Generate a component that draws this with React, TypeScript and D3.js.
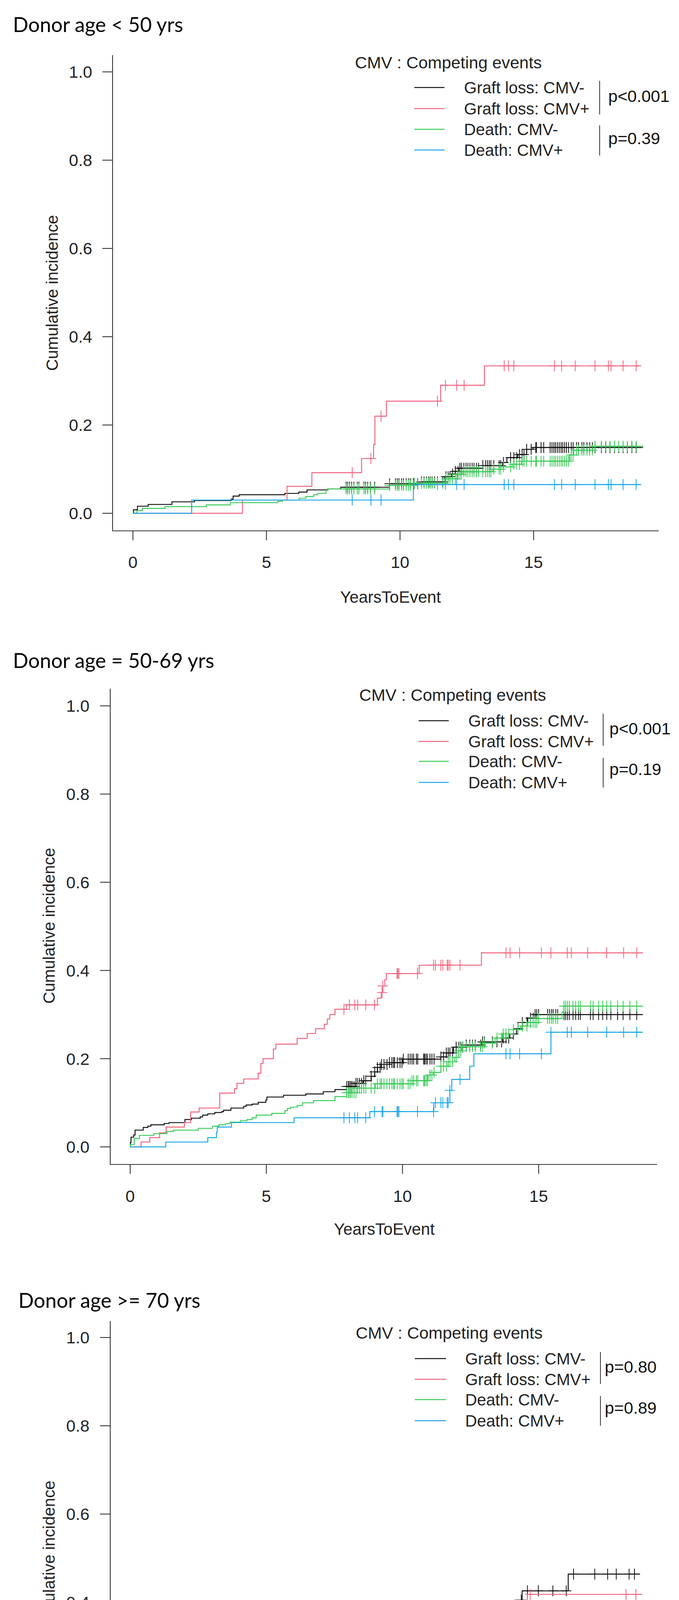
import React, { useEffect, useRef } from "react";
import * as d3 from "d3";

type Step = [number, number];

// text shared by the three panels
const panelTitles = ["Donor age < 50 yrs", "Donor age = 50-69 yrs", "Donor age >= 70 yrs"];
const legendTitle = "CMV : Competing events";
const seriesNames = ["Graft loss: CMV-", "Graft loss: CMV+", "Death: CMV-", "Death: CMV+"];
const seriesColors = ["#111111", "#F2627C", "#36CB55", "#17A5E8"];
const pGraftLoss = ["p<0.001", "p<0.001", "p=0.80"];
const pDeath = ["p=0.39", "p=0.19", "p=0.89"];
const xTicks = [0, 5, 10, 15];
const yTicks = [0, 0.2, 0.4, 0.6, 0.8, 1.0];

// ---- panel 1: donor age < 50 ----
const p1GraftNeg: Step[] = [[0.02, 0.008], [0.17, 0.016], [0.57, 0.02], [1.46, 0.026], [2.3, 0.029], [3.68, 0.032], [3.75, 0.039], [3.98, 0.042], [5.69, 0.045], [6.21, 0.048], [6.52, 0.053], [7.3, 0.055], [7.78, 0.059], [9.6, 0.067], [10.8, 0.071], [11.67, 0.083], [11.93, 0.089], [12.07, 0.095], [12.2, 0.102], [13.1, 0.108], [13.84, 0.115], [14.0, 0.126], [14.41, 0.133], [14.74, 0.145], [14.98, 0.149]];
const p1GraftPos: Step[] = [[4.1, 0.03], [5.77, 0.061], [6.7, 0.092], [8.56, 0.124], [9.01, 0.156], [9.06, 0.22], [9.49, 0.254], [11.52, 0.29], [13.16, 0.334]];
const p1DeathNeg: Step[] = [[0.15, 0.006], [0.35, 0.011], [1.2, 0.015], [2.75, 0.019], [3.65, 0.024], [5.42, 0.027], [5.6, 0.03], [6.22, 0.034], [6.48, 0.038], [6.77, 0.042], [6.91, 0.045], [7.23, 0.052], [7.28, 0.055], [9.6, 0.063], [10.53, 0.068], [11.67, 0.078], [12.13, 0.088], [12.33, 0.094], [13.47, 0.1], [13.87, 0.105], [14.2, 0.111], [14.55, 0.118], [16.35, 0.132], [16.5, 0.143], [17.3, 0.152]];
const p1DeathPos: Step[] = [[2.2, 0.03], [10.5, 0.065]];
const p1CensorNeg = [7.98, 8.04, 8.11, 8.19, 8.27, 8.4, 8.46, 8.65, 8.71, 8.79, 8.89, 9.05, 9.61, 9.83, 9.9, 9.96, 10.06, 10.13, 10.23, 10.33, 10.4, 10.5, 10.53, 10.66, 10.8, 10.9, 10.99, 11.07, 11.13, 11.2, 11.3, 11.4, 11.6, 11.72, 11.8, 11.87, 11.97, 12.07, 12.17, 12.24, 12.3, 12.39, 12.47, 12.54, 12.62, 12.7, 12.77, 12.86, 12.94, 13.1, 13.2, 13.27, 13.34, 13.4, 13.51, 13.71, 13.77, 13.87, 14.14, 14.26, 14.37, 14.47, 14.57, 14.64, 14.74, 14.91, 15.08, 15.11, 15.28, 15.38, 15.62, 15.69, 15.76, 15.82, 15.89, 15.96, 16.03, 16.09, 16.16, 16.23, 16.31, 16.41, 16.48, 16.61, 16.68, 16.81, 16.88, 17.0, 17.1, 17.2, 17.3, 17.54, 17.7, 17.86, 18.03, 18.19, 18.35, 18.51, 18.68, 18.84];
const p1CensorPos = [8.21, 8.91, 9.29, 11.4, 11.7, 12.12, 12.4, 13.9, 14.06, 14.26, 15.78, 16.05, 16.56, 17.3, 17.8, 17.9, 18.35, 18.84];
const p1Ends = [19.1, 19.0];

// ---- panel 2: donor age 50-69 ----
const p2GraftNeg: Step[] = [[0.01, 0.01], [0.03, 0.022], [0.13, 0.027], [0.18, 0.038], [0.48, 0.044], [0.65, 0.047], [0.76, 0.05], [1.25, 0.053], [1.43, 0.055], [2.01, 0.062], [2.25, 0.065], [2.57, 0.068], [2.66, 0.072], [2.85, 0.075], [3.11, 0.078], [3.36, 0.08], [3.43, 0.083], [3.7, 0.088], [4.17, 0.092], [4.26, 0.095], [4.48, 0.097], [4.7, 0.101], [4.98, 0.106], [5.02, 0.113], [5.63, 0.117], [6.45, 0.12], [7.09, 0.125], [7.52, 0.13], [7.95, 0.137], [8.28, 0.144], [8.55, 0.15], [8.85, 0.16], [8.98, 0.17], [9.08, 0.18], [9.22, 0.187], [9.52, 0.191], [10.0, 0.199], [11.41, 0.204], [11.61, 0.213], [11.87, 0.226], [12.34, 0.231], [12.91, 0.238], [13.67, 0.247], [13.94, 0.256], [14.19, 0.268], [14.4, 0.282], [14.6, 0.292], [14.87, 0.3]];
const p2GraftPos: Step[] = [[0.4, 0.011], [0.72, 0.021], [1.08, 0.032], [1.32, 0.045], [1.99, 0.055], [2.22, 0.079], [2.53, 0.088], [3.29, 0.122], [3.83, 0.132], [3.92, 0.144], [4.17, 0.154], [4.7, 0.167], [4.8, 0.189], [4.88, 0.2], [5.26, 0.222], [5.35, 0.233], [6.13, 0.246], [6.5, 0.257], [6.81, 0.268], [7.13, 0.278], [7.24, 0.29], [7.33, 0.3], [7.52, 0.312], [7.94, 0.322], [9.08, 0.337], [9.22, 0.35], [9.27, 0.365], [9.35, 0.379], [9.41, 0.393], [10.61, 0.412], [12.9, 0.44]];
const p2DeathNeg: Step[] = [[0.01, 0.005], [0.15, 0.019], [0.34, 0.026], [0.87, 0.03], [1.35, 0.035], [1.59, 0.038], [2.5, 0.042], [3.02, 0.047], [3.26, 0.05], [3.5, 0.053], [3.67, 0.056], [4.05, 0.059], [4.29, 0.062], [4.48, 0.066], [4.63, 0.072], [5.2, 0.076], [5.68, 0.082], [5.77, 0.087], [5.89, 0.09], [6.13, 0.094], [6.33, 0.1], [6.73, 0.105], [7.52, 0.114], [7.95, 0.123], [8.35, 0.133], [9.0, 0.143], [10.35, 0.15], [10.94, 0.163], [11.14, 0.169], [11.41, 0.183], [11.67, 0.193], [11.91, 0.203], [12.07, 0.218], [12.17, 0.227], [13.0, 0.235], [13.4, 0.247], [13.67, 0.256], [14.07, 0.266], [14.34, 0.274], [14.6, 0.282], [15.0, 0.291], [15.86, 0.306], [15.93, 0.319]];
const p2DeathPos: Step[] = [[1.31, 0.011], [2.85, 0.021], [3.17, 0.033], [3.2, 0.045], [3.72, 0.055], [6.02, 0.066], [8.8, 0.08], [11.15, 0.1], [11.74, 0.128], [11.81, 0.153], [12.47, 0.183], [12.62, 0.211], [15.45, 0.26]];
const p2CensorNeg = [7.95, 8.01, 8.05, 8.1, 8.15, 8.22, 8.29, 8.35, 8.42, 8.5, 8.58, 8.65, 8.85, 8.98, 9.08, 9.18, 9.23, 9.32, 9.43, 9.52, 9.61, 9.67, 9.71, 9.81, 9.91, 9.98, 10.03, 10.21, 10.28, 10.35, 10.41, 10.51, 10.56, 10.78, 10.81, 10.86, 10.91, 11.01, 11.08, 11.16, 11.41, 11.51, 11.61, 11.68, 11.74, 11.84, 11.97, 12.07, 12.14, 12.21, 12.34, 12.47, 12.57, 12.67, 12.87, 12.94, 13.01, 13.3, 13.47, 13.64, 13.7, 13.8, 13.9, 14.07, 14.24, 14.4, 14.57, 14.7, 14.8, 14.87, 14.93, 15.0, 15.33, 15.4, 15.47, 15.53, 15.63, 15.7, 15.93, 15.99, 16.06, 16.13, 16.26, 16.36, 16.46, 16.53, 16.9, 17.0, 17.2, 17.35, 17.5, 17.65, 17.9, 18.1, 18.35, 18.6];
const p2CensorPos = [7.85, 8.05, 8.25, 8.35, 8.65, 8.97, 9.25, 9.28, 9.8, 9.83, 9.87, 10.55, 11.14, 11.21, 11.41, 11.48, 11.64, 11.68, 11.74, 12.11, 13.8, 13.95, 14.3, 15.1, 15.45, 16.05, 16.2, 16.8, 17.5, 18.12, 18.6];
const p2Ends = [18.83, 18.83];

// ---- panel 3: donor age >= 70 ----
const p3GraftNeg: Step[] = [[0.0, 0.043], [0.14, 0.049], [0.34, 0.054], [0.9, 0.059], [0.97, 0.064], [1.05, 0.07], [1.3, 0.079], [1.6, 0.087], [1.85, 0.092], [2.41, 0.099], [2.45, 0.104], [2.53, 0.109], [2.65, 0.115], [2.72, 0.124], [3.17, 0.129], [3.82, 0.136], [3.98, 0.142], [4.39, 0.147], [4.6, 0.152], [4.71, 0.158], [4.9, 0.163], [5.27, 0.169], [5.63, 0.181], [6.11, 0.186], [6.59, 0.193], [6.82, 0.198], [7.02, 0.204], [7.26, 0.214], [7.7, 0.22], [7.87, 0.226], [8.0, 0.24], [8.33, 0.245], [8.52, 0.25], [9.43, 0.259], [9.5, 0.266], [9.62, 0.274], [9.72, 0.278], [9.91, 0.283], [10.11, 0.291], [10.66, 0.299], [10.72, 0.308], [10.85, 0.314], [11.44, 0.319], [11.57, 0.33], [11.73, 0.339], [11.89, 0.343], [13.48, 0.361], [13.6, 0.38], [13.77, 0.405], [14.03, 0.426], [15.68, 0.464]];
const p3GraftPos: Step[] = [[0.2, 0.015], [0.7, 0.034], [0.87, 0.05], [1.08, 0.067], [1.27, 0.102], [2.9, 0.118], [3.16, 0.135], [3.32, 0.152], [4.16, 0.169], [4.35, 0.188], [4.82, 0.203], [5.01, 0.222], [5.56, 0.257], [6.61, 0.277], [8.42, 0.296], [9.3, 0.318], [9.53, 0.342], [14.22, 0.418]];
const p3DeathNeg: Step[] = [[0.02, 0.012], [0.17, 0.02], [0.64, 0.03], [0.72, 0.037], [0.83, 0.043], [1.19, 0.05], [1.27, 0.055], [1.38, 0.059], [1.85, 0.07], [2.67, 0.076], [3.25, 0.08], [3.47, 0.088], [3.69, 0.093], [4.27, 0.097], [5.06, 0.102], [5.14, 0.105], [5.26, 0.109], [5.37, 0.114], [5.5, 0.122], [5.59, 0.129], [5.67, 0.143], [5.72, 0.147], [5.97, 0.152], [6.14, 0.161], [6.22, 0.167], [7.18, 0.174], [7.32, 0.188], [7.78, 0.199], [8.13, 0.205], [9.04, 0.217], [9.17, 0.228], [9.43, 0.234], [9.56, 0.247], [10.08, 0.263], [10.33, 0.272], [10.66, 0.278], [11.11, 0.284], [16.8, 0.333]];
const p3DeathPos: Step[] = [[0.45, 0.032], [2.41, 0.05], [4.69, 0.068], [4.82, 0.083], [5.08, 0.102], [5.45, 0.118], [6.41, 0.137], [6.55, 0.154], [7.02, 0.171], [7.62, 0.189], [7.9, 0.205], [8.62, 0.229], [9.36, 0.25], [10.3, 0.274]];
const p3CensorNeg = [8.1, 8.18, 8.52, 8.62, 8.85, 8.91, 9.04, 9.1, 9.14, 9.33, 9.36, 9.62, 9.69, 9.72, 9.91, 9.95, 10.08, 10.11, 10.33, 10.4, 10.63, 10.67, 10.72, 10.89, 10.98, 11.27, 11.47, 11.76, 11.82, 12.05, 12.57, 12.63, 12.67, 12.8, 12.85, 12.9, 12.99, 13.12, 13.19, 13.74, 14.0, 14.22, 14.61, 15.13, 15.61, 15.87, 16.63, 17.09, 17.4, 17.86, 18.05];
const p3CensorPos = [7.93, 8.07, 8.13, 8.44, 8.67, 9.14, 9.33, 9.74, 10.66, 10.69, 11.34, 11.57, 11.91, 12.57, 13.65, 13.8, 14.32, 17.75, 18.1];
const p3Ends = [18.25, 18.33];

// pixel layout of each panel on the page
const layouts = [
  { titleX: 33, titleY: 82, axisX: 288, axisTop: 141, axisY: 1359, right: 1685, x0: 340, x15: 1365, y0: 1314, y1: 184, yTickLabelX: 236, xTickLabelY: 1454, xLabelX: 999, xLabelY: 1543, yLabelX: 133, yLabelY: 750, legTitleX: 908, legTitleY: 160, legLineX1: 1060, legLineX2: 1137, legRows: [224, 278, 331, 384], legTextX: 1187, bracketX: 1534, brackets: [[207, 293], [321, 398]], pX: 1556, pY: [246, 354] },
  { titleX: 33, titleY: 1710, axisX: 282, axisTop: 1763, axisY: 2981, right: 1681, x0: 333, x15: 1378, y0: 2936, y1: 1807, yTickLabelX: 229, xTickLabelY: 3077, xLabelX: 983, xLabelY: 3161, yLabelX: 125, yLabelY: 2370, legTitleX: 919, legTitleY: 1779, legLineX1: 1071, legLineX2: 1148, legRows: [1845, 1898, 1949, 2003], legTextX: 1198, bracketX: 1543, brackets: [[1827, 1909], [1940, 2016]], pX: 1559, pY: [1865, 1969] },
  { titleX: 47, titleY: 3348, axisX: 282, axisTop: 3382, axisY: 4599, right: 1681, x0: 333, x15: 1405, y0: 4554, y1: 3424, yTickLabelX: 229, xTickLabelY: 4694, xLabelX: 997, xLabelY: 4781, yLabelX: 125, yLabelY: 3990, legTitleX: 910, legTitleY: 3412, legLineX1: 1061, legLineX2: 1141, legRows: [3478, 3531, 3583, 3637], legTextX: 1190, bracketX: 1536, brackets: [[3461, 3543], [3574, 3650]], pX: 1547, pY: [3499, 3604] },
];

const panelCurves = [
  [p1GraftNeg, p1GraftPos, p1DeathNeg, p1DeathPos],
  [p2GraftNeg, p2GraftPos, p2DeathNeg, p2DeathPos],
  [p3GraftNeg, p3GraftPos, p3DeathNeg, p3DeathPos],
];
const panelCensor = [
  [p1CensorNeg, p1CensorPos],
  [p2CensorNeg, p2CensorPos],
  [p3CensorNeg, p3CensorPos],
];
const panelEnds = [p1Ends, p2Ends, p3Ends];

const W = 1737;
const H = 4805;
const axisFont = "'Liberation Sans', Arial, sans-serif";

const App: React.FC = () => {
  const svgRef = useRef<SVGSVGElement | null>(null);

  useEffect(() => {
    const svg = d3.select(svgRef.current);
    svg.selectAll("*").remove();
    svg.append("rect").attr("width", W).attr("height", H).attr("fill", "#fff");

    layouts.forEach((L, pi) => {
      const g = svg.append("g");
      const x = d3.scaleLinear().domain([0, 15]).range([L.x0, L.x15]);
      const y = d3.scaleLinear().domain([0, 1]).range([L.y0, L.y1]);

      // title
      g.append("text")
        .attr("x", L.titleX)
        .attr("y", L.titleY)
        .attr("font-family", "Lato, 'Open Sans', sans-serif")
        .attr("font-size", 52)
        .attr("fill", "#000")
        .text(panelTitles[pi]);

      // L-shaped box
      g.append("path")
        .attr("d", `M${L.axisX},${L.axisTop}V${L.axisY}H${L.right}`)
        .attr("fill", "none")
        .attr("stroke", "#333")
        .attr("stroke-width", 2.2);

      // y axis ticks
      yTicks.forEach((t) => {
        g.append("line")
          .attr("x1", L.axisX - 26)
          .attr("x2", L.axisX)
          .attr("y1", y(t))
          .attr("y2", y(t))
          .attr("stroke", "#333")
          .attr("stroke-width", 2.2);
        g.append("text")
          .attr("x", L.yTickLabelX)
          .attr("y", y(t))
          .attr("dy", "0.36em")
          .attr("text-anchor", "end")
          .attr("font-family", axisFont)
          .attr("font-size", 43)
          .attr("fill", "#222")
          .text(d3.format(".1f")(t));
      });

      // x axis ticks
      xTicks.forEach((t) => {
        g.append("line")
          .attr("x1", x(t))
          .attr("x2", x(t))
          .attr("y1", L.axisY)
          .attr("y2", L.axisY + 24)
          .attr("stroke", "#333")
          .attr("stroke-width", 2.2);
        g.append("text")
          .attr("x", x(t))
          .attr("y", L.xTickLabelY)
          .attr("text-anchor", "middle")
          .attr("font-family", axisFont)
          .attr("font-size", 43)
          .attr("fill", "#222")
          .text(t);
      });

      g.append("text")
        .attr("x", L.xLabelX)
        .attr("y", L.xLabelY)
        .attr("text-anchor", "middle")
        .attr("font-family", axisFont)
        .attr("font-size", 42)
        .attr("fill", "#222")
        .text("YearsToEvent");

      g.append("text")
        .attr("transform", `translate(${L.yLabelX},${L.yLabelY}) rotate(-90)`)
        .attr("dy", "0.36em")
        .attr("text-anchor", "middle")
        .attr("font-family", axisFont)
        .attr("font-size", 42)
        .attr("fill", "#222")
        .text("Cumulative incidence");

      // curves + censor marks
      const line = d3
        .line<Step>()
        .x((d) => x(d[0]))
        .y((d) => y(d[1]))
        .curve(d3.curveStepAfter);

      panelCurves[pi].forEach((steps, si) => {
        const grp = si % 2; // 0 = CMV-, 1 = CMV+
        const end = panelEnds[pi][grp];
        const last = steps[steps.length - 1][1];
        const pts: Step[] = [[0, 0], ...steps, [end, last]];
        const color = seriesColors[si];
        g.append("path")
          .attr("d", line(pts))
          .attr("fill", "none")
          .attr("stroke", color)
          .attr("stroke-width", 2.4);

        const bis = d3.bisector((d: Step) => d[0]).right;
        const valueAt = (t: number) => {
          const i = bis(pts, t) - 1;
          return i >= 0 ? pts[i][1] : 0;
        };
        const marks = g.append("g").attr("stroke", color).attr("stroke-width", 2);
        panelCensor[pi][grp].forEach((t) => {
          const cx = x(t);
          const cy = y(valueAt(t));
          marks
            .append("path")
            .attr("d", `M${cx - 13},${cy}H${cx + 13}M${cx},${cy - 14}V${cy + 14}`);
        });
      });

      // legend
      g.append("text")
        .attr("x", L.legTitleX)
        .attr("y", L.legTitleY)
        .attr("dy", "0.36em")
        .attr("font-family", axisFont)
        .attr("font-size", 43)
        .attr("fill", "#222")
        .text(legendTitle);
      seriesNames.forEach((name, si) => {
        const ry = L.legRows[si];
        g.append("line")
          .attr("x1", L.legLineX1)
          .attr("x2", L.legLineX2)
          .attr("y1", ry)
          .attr("y2", ry)
          .attr("stroke", seriesColors[si])
          .attr("stroke-width", 2.4);
        g.append("text")
          .attr("x", L.legTextX)
          .attr("y", ry)
          .attr("dy", "0.36em")
          .attr("font-family", axisFont)
          .attr("font-size", 42)
          .attr("fill", "#222")
          .text(name);
      });
      L.brackets.forEach((b, bi) => {
        g.append("line")
          .attr("x1", L.bracketX)
          .attr("x2", L.bracketX)
          .attr("y1", b[0])
          .attr("y2", b[1])
          .attr("stroke", "#333")
          .attr("stroke-width", 2);
        g.append("text")
          .attr("x", L.pX)
          .attr("y", L.pY[bi])
          .attr("dy", "0.36em")
          .attr("font-family", axisFont)
          .attr("font-size", 43)
          .attr("fill", "#111")
          .text(bi === 0 ? pGraftLoss[pi] : pDeath[pi]);
      });
    });
  }, []);

  return (
    <div style={{ position: "absolute", left: 0, top: 0 }}>
      <svg ref={svgRef} width={W} height={H} viewBox={`0 0 ${W} ${H}`}></svg>
    </div>
  );
};

export default App;
